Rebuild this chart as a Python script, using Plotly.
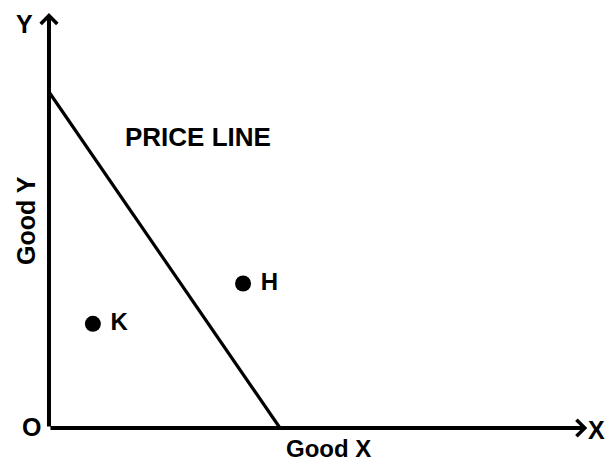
import plotly.graph_objects as go

# Data (economic units)
price_line_x = [0, 10]      # x-intercept at 10
price_line_y = [10, 0]      # y-intercept at 10
point_names = ["K", "H"]
point_x = [1.9, 8.4]
point_y = [3.1, 4.3]
axis_x_max = 23.3
axis_y_max = 12.35

FONT = "Liberation Sans, Arial, sans-serif"

fig = go.Figure()

# Price line
fig.add_trace(go.Scatter(x=price_line_x, y=price_line_y, mode="lines",
                         line=dict(color="black", width=3.2), hoverinfo="skip"))

# Points K and H
fig.add_trace(go.Scatter(x=point_x, y=point_y, mode="markers+text",
                         text=[" " + n for n in point_names],
                         textposition="middle right",
                         textfont=dict(family=FONT, size=24, color="black", weight="bold"),
                         marker=dict(color="black", size=16), hoverinfo="skip"))

# Axes as arrows
fig.add_annotation(x=axis_x_max, y=0, ax=0, ay=0, xref="x", yref="y", axref="x", ayref="y",
                   showarrow=True, arrowhead=4, arrowwidth=4, arrowsize=0.8,
                   arrowcolor="black", text="", standoff=0)
fig.add_annotation(x=0, y=axis_y_max, ax=0, ay=0, xref="x", yref="y", axref="x", ayref="y",
                   showarrow=True, arrowhead=4, arrowwidth=4, arrowsize=0.8,
                   arrowcolor="black", text="", standoff=0)

def label(txt, x, y, size=25, angle=0):
    fig.add_annotation(x=x, y=y, xref="x", yref="y", text=txt, showarrow=False,
                       textangle=angle,
                       font=dict(family=FONT, size=size, color="black", weight="bold"),
                       xanchor="center", yanchor="middle")

label("PRICE LINE", 6.45, 8.66, size=26)
label("Good Y", -1.0, 6.19, size=25, angle=-90)
label("Good X", 12.12, -0.6, size=24)
label("O", -0.74, 0.03, size=25)
label("X", 23.7, -0.06, size=25)
label("Y", -1.04, 12.02, size=25)

fig.update_layout(
    width=606, height=461,
    margin=dict(l=0, r=0, t=0, b=0),
    paper_bgcolor="white", plot_bgcolor="white",
    showlegend=False,
    xaxis=dict(range=[-2.12, 24.11], visible=False, fixedrange=True),
    yaxis=dict(range=[-0.982, 12.738], visible=False, fixedrange=True),
)

fig.write_html("out.html", config={"displayModeBar": False},
               post_script="document.body.style.margin='0';document.body.style.overflow='hidden';")
